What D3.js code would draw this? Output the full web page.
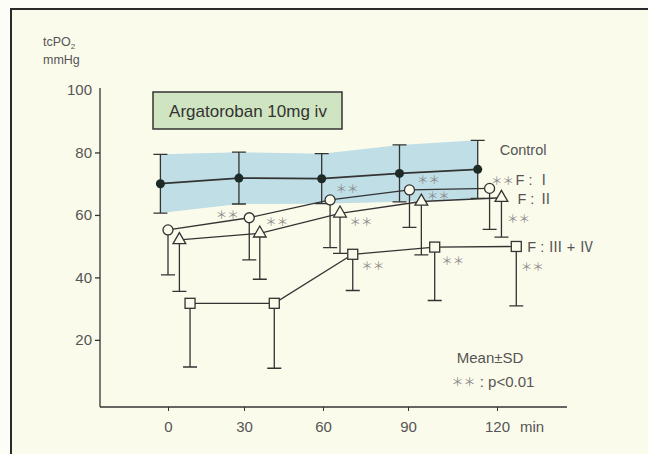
<!DOCTYPE html>
<html>
<head>
<meta charset="utf-8">
<script src="https://cdn.jsdelivr.net/npm/d3@7"></script>
<style>
  body { margin: 0; background: #fdfdf8; }
  svg { display: block; font-family: "Liberation Sans", Arial, sans-serif; }
</style>
</head>
<body>
<div id="chart"></div>
<script>
// tick labels
const timeTicks = [0, 30, 60, 90, 120];
const yTicks = [20, 40, 60, 80, 100];

// control group (mean ± SD), x in minutes as plotted (groups are staggered)
const controlX = [-3, 28, 59.5, 87, 113.5];
const controlMean = [70, 71.8, 71.6, 73.3, 74.6];
const controlSD = [9.4, 8.3, 8.0, 9.1, 9.3];

// Fontaine I
const f1X = [0, 32, 62.5, 90.5, 117.5];
const f1Mean = [55.2, 59.1, 64.8, 68, 68.5];
const f1SD = [14.4, 13.5, 15.3, 12, 13.1];
const f1Sig = [false, true, true, true, true];

// Fontaine II
const f2X = [4.5, 36, 66, 94.5, 121.5];
const f2Mean = [52, 54.1, 60.5, 64.3, 65.5];
const f2SD = [16.5, 14.7, 12.8, 17.1, 12.6];
const f2Sig = [false, true, true, true, true];

// Fontaine III + IV
const f3X = [8.7, 41.5, 70.5, 99, 126.5];
const f3Mean = [31.7, 31.7, 47.4, 49.7, 49.9];
const f3SD = [20.4, 20.8, 11.6, 17.1, 19];
const f3Sig = [false, false, true, true, true];

const width = 648, height = 454;
const ink = "#333", grey = "#555", paper = "#fbfbec";

const svg = d3.select("#chart").append("svg")
    .attr("width", width)
    .attr("height", height);

// frame
svg.append("rect")
    .attr("x", 11).attr("y", 9)
    .attr("width", 660).attr("height", 470)
    .attr("fill", paper)
    .attr("stroke", "#2a2a2a")
    .attr("stroke-width", 2);

// the printed time axis isn't evenly spaced, so map each tick
const x = d3.scaleLinear().domain(timeTicks).range([168, 244, 323, 408, 497]);
const y = d3.scaleLinear().domain([-1.5, 100]).range([407, 90]);

const zip = (xs, ms, sds, sig) => xs.map((t, i) => ({ t, m: ms[i], sd: sds[i], sig: sig ? sig[i] : false }));
const control = zip(controlX, controlMean, controlSD);
const f1 = zip(f1X, f1Mean, f1SD, f1Sig);
const f2 = zip(f2X, f2Mean, f2SD, f2Sig);
const f3 = zip(f3X, f3Mean, f3SD, f3Sig);

// control band
svg.append("path")
    .datum(control)
    .attr("fill", "#bfdee6")
    .attr("d", d3.area()
        .x(d => x(d.t))
        .y0(d => y(d.m - d.sd))
        .y1(d => y(d.m + d.sd)));

// axes
const yAxis = svg.append("g")
    .attr("transform", "translate(100,0)")
    .call(d3.axisLeft(y).tickValues(yTicks).tickSizeInner(5).tickSizeOuter(0).tickPadding(3));
yAxis.select(".domain").attr("d", `M0,${y(-1.5)}V88`).attr("stroke", ink).attr("stroke-width", 1.3);
yAxis.selectAll(".tick line").attr("stroke", ink).attr("stroke-width", 1.3)
    .filter(d => d === 100).remove();
yAxis.selectAll("text").attr("fill", grey).style("font-size", "15px");

const xAxis = svg.append("g")
    .attr("transform", `translate(0,${y(-1.5)})`)
    .call(d3.axisBottom(x).tickValues(timeTicks).tickSize(4).tickPadding(10));
xAxis.select(".domain").attr("d", "M100,0H567").attr("stroke", ink).attr("stroke-width", 1.3);
xAxis.selectAll(".tick line").attr("stroke", ink);
xAxis.selectAll("text").attr("fill", grey).style("font-size", "15px");
svg.append("text")
    .attr("x", 520).attr("y", y(-1.5) + 14).attr("dy", "0.71em")
    .attr("fill", grey).style("font-size", "15px")
    .text("min");

// axis title
const yTitle = svg.append("text").attr("x", 43).attr("y", 46)
    .attr("fill", grey).style("font-size", "12.5px");
yTitle.append("tspan").text("tcPO");
yTitle.append("tspan").attr("dy", 3).style("font-size", "8px").text("2");
svg.append("text").attr("x", 43).attr("y", 64)
    .attr("fill", grey).style("font-size", "12.5px").text("mmHg");

// drug box
svg.append("rect")
    .attr("x", 153).attr("y", 92).attr("width", 189).attr("height", 37)
    .attr("fill", "#cfe4c0").attr("stroke", ink).attr("stroke-width", 1.5);
svg.append("text")
    .attr("x", 248).attr("y", 111).attr("text-anchor", "middle")
    .attr("dominant-baseline", "central")
    .attr("fill", ink).style("font-size", "17px")
    .text("Argatoroban 10mg iv");

const line = d3.line().x(d => x(d.t)).y(d => y(d.m));
const cap = 7;

function errorBars(data, twoSided) {
    const g = svg.append("g").attr("stroke", ink).attr("stroke-width", 1.3);
    g.selectAll(".bar").data(data).join("path")
        .attr("fill", "none")
        .attr("d", d => {
            const cx = x(d.t), lo = y(d.m - d.sd), hi = twoSided ? y(d.m + d.sd) : y(d.m);
            let p = `M${cx},${hi}V${lo}M${cx - cap},${lo}H${cx + cap}`;
            if (twoSided) p += `M${cx - cap},${hi}H${cx + cap}`;
            return p;
        });
}

[control, f1, f2, f3].forEach((s, i) => {
    errorBars(s, i === 0);
    svg.append("path").datum(s)
        .attr("fill", "none").attr("stroke", ink)
        .attr("stroke-width", i === 0 ? 1.8 : 1.3)
        .attr("d", line);
});

// markers
svg.selectAll(".ctrl").data(control).join("circle")
    .attr("cx", d => x(d.t)).attr("cy", d => y(d.m)).attr("r", 4.5)
    .attr("fill", "#1e2a26");
svg.selectAll(".f1").data(f1).join("circle")
    .attr("cx", d => x(d.t)).attr("cy", d => y(d.m)).attr("r", 5)
    .attr("fill", paper).attr("stroke", ink).attr("stroke-width", 1.3);
svg.selectAll(".f2").data(f2).join("path")
    .attr("transform", d => `translate(${x(d.t)},${y(d.m)})`)
    .attr("d", d3.symbol(d3.symbolTriangle, 70))
    .attr("fill", paper).attr("stroke", ink).attr("stroke-width", 1.3);
svg.selectAll(".f3").data(f3).join("rect")
    .attr("x", d => x(d.t) - 5).attr("y", d => y(d.m) - 5)
    .attr("width", 10).attr("height", 10)
    .attr("fill", paper).attr("stroke", ink).attr("stroke-width", 1.3);

// ** markers, placed by hand next to each point as printed
const starOffsets = [
    [null, [-22, -4], [17, -12], [19, -11], [13, -8]],
    [null, [17, -12], [21, 8], [17, -6], [17, 20]],
    [null, null, [20, 11], [18, 13], [16, 20]]
];
[f1, f2, f3].forEach((s, gi) => {
    s.forEach((d, i) => {
        if (!d.sig) return;
        const [dx, dy] = starOffsets[gi][i];
        svg.append("text")
            .attr("x", x(d.t) + dx).attr("y", y(d.m) + dy)
            .attr("text-anchor", "middle").attr("dominant-baseline", "central")
            .attr("fill", "#8a8a8a")
            .style("font-family", "'Noto Sans CJK JP'").style("font-size", "11.5px")
            .text("＊＊");
    });
});

// series labels next to last point
const labels = [
    { s: control, text: "Control", dx: 22, dy: -19 },
    { s: f1, text: "F : Ⅰ", dx: 26, dy: -8 },
    { s: f2, text: "F : Ⅱ", dx: 16, dy: 1 },
    { s: f3, text: "F : Ⅲ + Ⅳ", dx: 11, dy: 1 }
];
labels.forEach(l => {
    const d = l.s[l.s.length - 1];
    svg.append("text")
        .attr("x", x(d.t) + l.dx).attr("y", y(d.m) + l.dy)
        .attr("dominant-baseline", "central")
        .attr("fill", grey).style("font-size", "14.5px")
        .style("font-family", "'Liberation Sans', 'Noto Sans CJK JP'")
        .text(l.text);
});

// notes
svg.append("text")
    .attr("x", 490).attr("y", 357).attr("text-anchor", "middle")
    .attr("dominant-baseline", "central")
    .attr("fill", grey).style("font-size", "15px")
    .text("Mean±SD");
const note = svg.append("text")
    .attr("x", 493).attr("y", 381).attr("text-anchor", "middle")
    .attr("dominant-baseline", "central")
    .attr("fill", grey).style("font-size", "15px");
note.append("tspan").attr("fill", "#8a8a8a")
    .style("font-family", "'Noto Sans CJK JP'").style("font-size", "12px").text("＊＊");
note.append("tspan").text(" : p<0.01");
</script>
</body>
</html>
